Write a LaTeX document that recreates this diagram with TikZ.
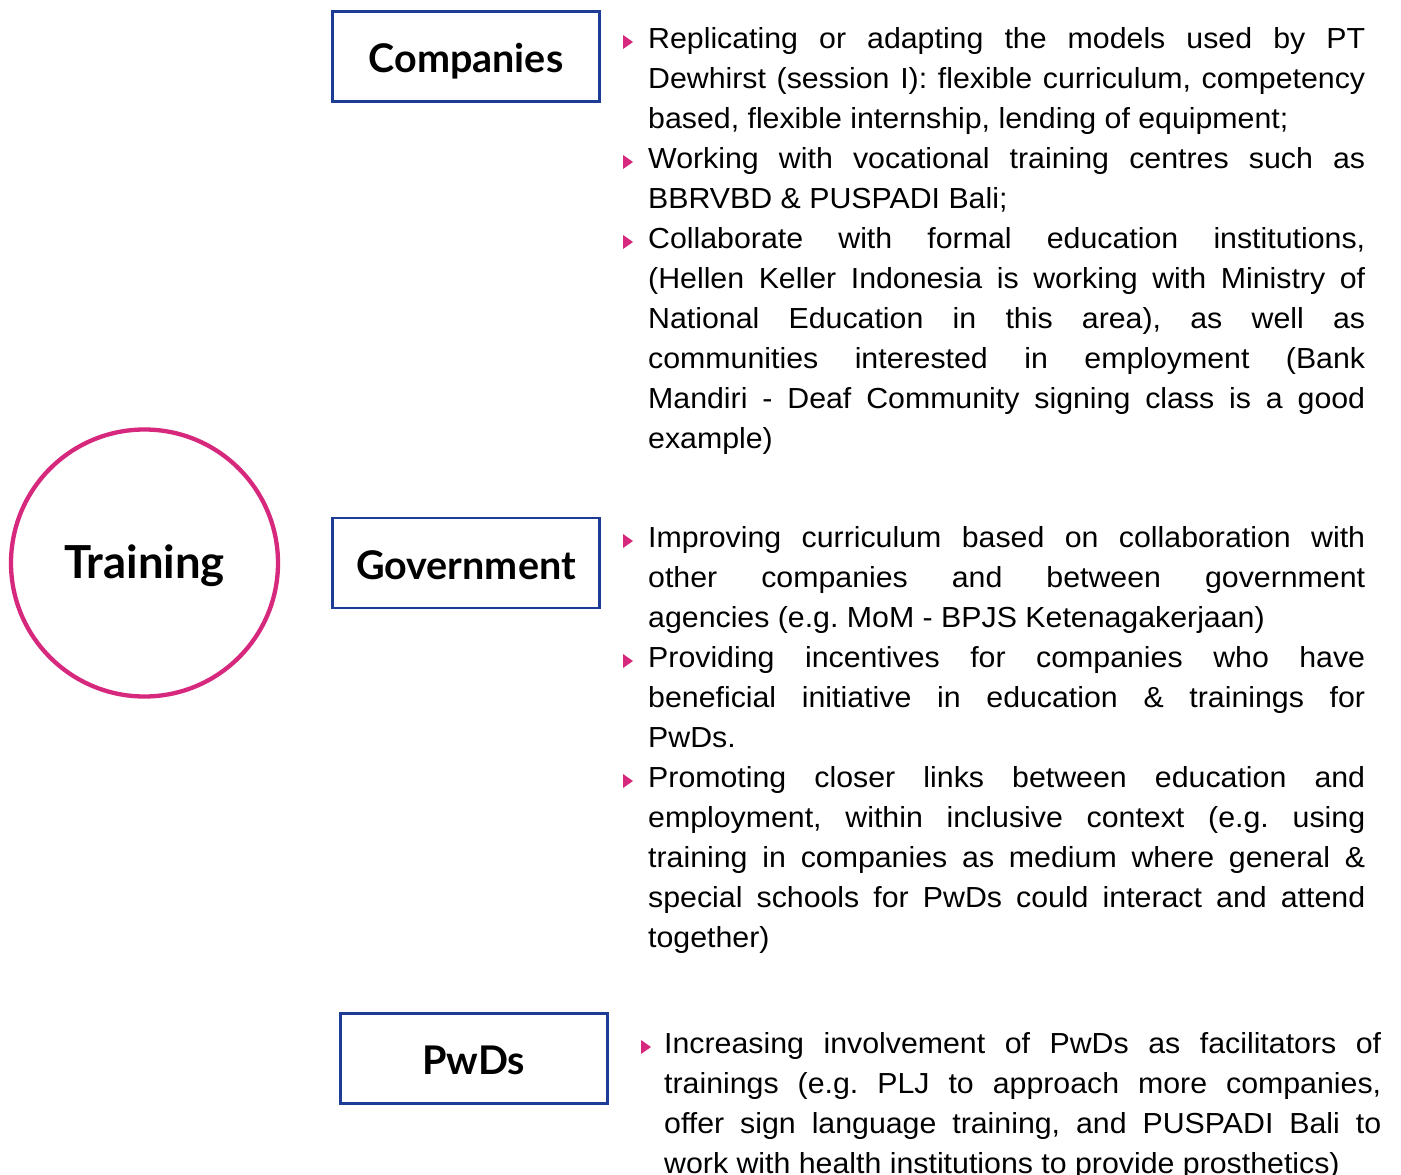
\documentclass[tikz,border=0pt]{standalone}
\usepackage{fontspec}
\setmainfont{Liberation Sans}
\newfontfamily\headfont{Lato}
\newfontfamily\bodyfont{Liberation Sans}[FakeStretch=1.045]
\definecolor{trpink}{HTML}{D6297E}
\definecolor{trblue}{HTML}{1C3C96}
\newcommand\lstrut{\rule[-10pt]{0pt}{40pt}}
\newcommand\jl[1]{\hbox to 717pt{\lstrut#1}}
\newcommand\lastl[1]{\hbox to 717pt{\lstrut#1\hfil}}
\newcommand\bodyset{\bodyfont\fontsize{29}{40}\selectfont\frenchspacing\lineskiplimit=0pt\relax}
\tikzset{
  hdbox/.style={draw=trblue, line width=2.5pt, minimum width=267pt, minimum height=90pt,
    inner sep=0pt, text height=32pt, text depth=0pt,
    font=\headfont\bfseries\fontsize{39.5}{42}\selectfont},
  hdcirc/.style={circle, draw=trpink, line width=4.3pt, minimum size=267pt, inner sep=0pt,
    text height=30pt, text depth=0pt, font=\headfont\bfseries\fontsize{45.5}{48}\selectfont},
  bodytext/.style={anchor=north west, inner sep=0pt},
  bul/.style={fill=trpink}
}
\begin{document}
\begin{tikzpicture}[x=1pt,y=-1pt]
\useasboundingbox (0,0) rectangle (1401,1175);
\fill[white] (0,0) rectangle (1401,1175);

\node[hdcirc] (training) at (144.5,563) {Training};
\node[hdbox] (companies) at (465.9,56.4) {Companies};
\node[hdbox] (government) at (465.9,563) {Government};
\node[hdbox] (pwds) at (473.8,1058.3) {PwDs};

\node[bodytext] (t1) at (648,18) {\vbox{\bodyset
\jl{Replicating or adapting the models used by PT}
\jl{Dewhirst (session I): flexible curriculum, competency}
\lastl{based, flexible internship, lending of equipment;}
\jl{Working with vocational training centres such as}
\lastl{BBRVBD \& PUSPADI Bali;}
\jl{Collaborate with formal education institutions,}
\jl{(Hellen Keller Indonesia is working with Ministry of}
\jl{National Education in this area), as well as}
\jl{communities interested in employment (Bank}
\jl{Mandiri - Deaf Community signing class is a good}
\lastl{example)}}};

\node[bodytext] (t2) at (648,517) {\vbox{\bodyset
\jl{Improving curriculum based on collaboration with}
\jl{other companies and between government}
\lastl{agencies (e.g. MoM - BPJS Ketenagakerjaan)}
\jl{Providing incentives for companies who have}
\jl{beneficial initiative in education \& trainings for}
\lastl{PwDs.}
\jl{Promoting closer links between education and}
\jl{employment, within inclusive context (e.g. using}
\jl{training in companies as medium where general \&}
\jl{special schools for PwDs could interact and attend}
\lastl{together)}}};

\node[bodytext] (t3) at (664,1023) {\vbox{\bodyset
\jl{Increasing involvement of PwDs as facilitators of}
\jl{trainings (e.g. PLJ to approach more companies,}
\jl{offer sign language training, and PUSPADI Bali to}
\lastl{work with health institutions to provide prosthetics)}}};

\foreach \k in {17,137,217}
  \fill[bul] ([shift={(-25,\k)}]t1.north west) -- ++(0,14) -- ++(10,-7) -- cycle;
\foreach \k in {17,137,257}
  \fill[bul] ([shift={(-25,\k)}]t2.north west) -- ++(0,14) -- ++(10,-7) -- cycle;
\fill[bul] ([shift={(-23,17)}]t3.north west) -- ++(0,14) -- ++(10,-7) -- cycle;
\end{tikzpicture}
\end{document}
